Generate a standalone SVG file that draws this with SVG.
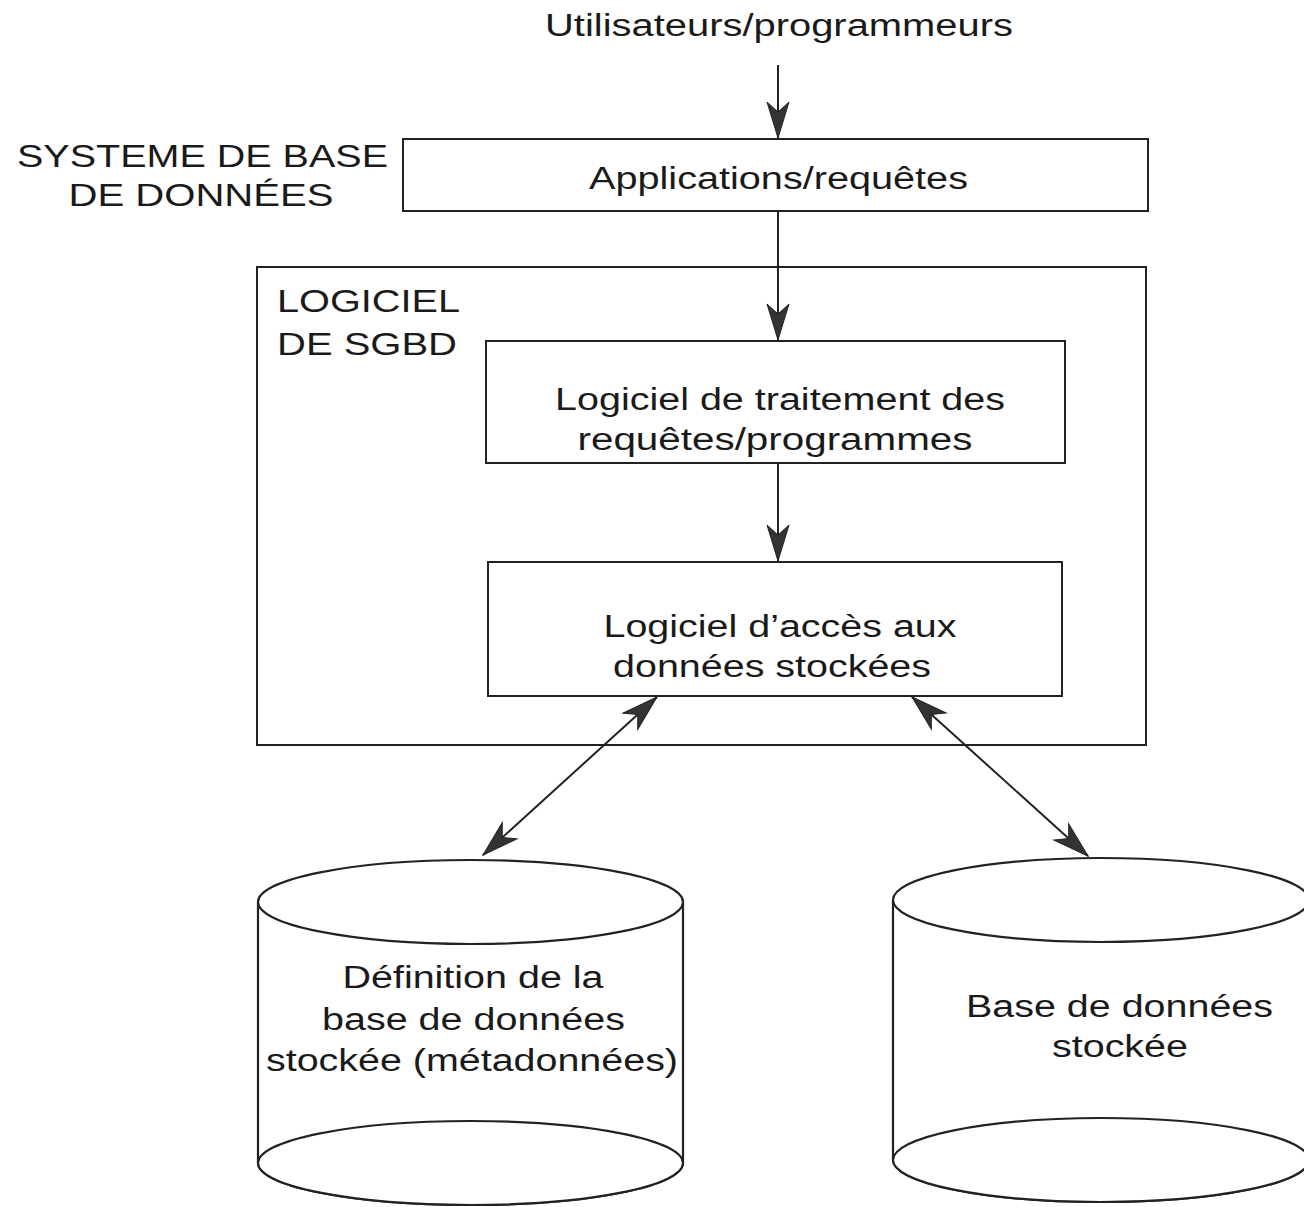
<svg xmlns="http://www.w3.org/2000/svg" width="1304" height="1207" viewBox="0 0 1304 1207">
<style>
  .t { font-family: "Liberation Sans", Arial, sans-serif; font-size: 31px; fill: #1a1a1a; }
  .m { text-anchor: middle; }
  .box { fill: #fff; stroke: #222; stroke-width: 2; }
  .edge { fill: none; stroke: #222; stroke-width: 2; }
  .cyl { fill: #fff; stroke: #222; stroke-width: 2.2; }
</style>
<defs>
  <marker id="ah" viewBox="-40 -14 42 28" refX="0" refY="0" markerWidth="42" markerHeight="28" markerUnits="userSpaceOnUse" orient="auto-start-reverse">
    <path d="M0,0 L-36,-11 L-26,0 L-36,11 Z" fill="#333" stroke="#222" stroke-width="1"/>
  </marker>
</defs>
<rect width="1304" height="1207" fill="#fff"/>

<text class="t m" x="779" y="36" textLength="468" lengthAdjust="spacingAndGlyphs">Utilisateurs/programmeurs</text>

<g id="sys-label">
  <text class="t m" x="202.5" y="167" textLength="371" lengthAdjust="spacingAndGlyphs">SYSTEME DE BASE</text>
  <text class="t m" x="201" y="206" textLength="265" lengthAdjust="spacingAndGlyphs">DE DONNÉES</text>
</g>

<g id="applications">
  <rect class="box" x="403" y="139" width="745" height="72"/>
  <text class="t m" x="778.5" y="189" textLength="379" lengthAdjust="spacingAndGlyphs">Applications/requêtes</text>
</g>

<g id="sgbd">
  <rect class="box" x="257" y="267" width="889" height="478"/>
  <text class="t" x="277" y="312" textLength="183" lengthAdjust="spacingAndGlyphs">LOGICIEL</text>
  <text class="t" x="277" y="355" textLength="180" lengthAdjust="spacingAndGlyphs">DE SGBD</text>
</g>

<g id="traitement">
  <rect class="box" x="486" y="341" width="579" height="122"/>
  <text class="t m" x="780" y="410" textLength="450" lengthAdjust="spacingAndGlyphs">Logiciel de traitement des</text>
  <text class="t m" x="775" y="450" textLength="395" lengthAdjust="spacingAndGlyphs">requêtes/programmes</text>
</g>

<g id="acces">
  <rect class="box" x="488" y="562" width="574" height="134"/>
  <text class="t m" x="780" y="637" textLength="353" lengthAdjust="spacingAndGlyphs">Logiciel d’accès aux</text>
  <text class="t m" x="772" y="677" textLength="318" lengthAdjust="spacingAndGlyphs">données stockées</text>
</g>

<g id="metadonnees">
  <path class="cyl" d="M258,902 L258,1163 A212.5,42 0 0 0 683,1163 L683,902"/>
  <ellipse class="cyl" cx="470.5" cy="1163" rx="212.5" ry="42"/>
  <ellipse class="cyl" cx="470.5" cy="902" rx="212.5" ry="42"/>
  <text class="t m" x="473" y="988" textLength="261" lengthAdjust="spacingAndGlyphs">Définition de la</text>
  <text class="t m" x="473.5" y="1030" textLength="303" lengthAdjust="spacingAndGlyphs">base de données</text>
  <text class="t m" x="472" y="1071" textLength="412" lengthAdjust="spacingAndGlyphs">stockée (métadonnées)</text>
</g>

<g id="base">
  <path class="cyl" d="M893,900 L893,1160 A208,42 0 0 0 1309,1160 L1309,900"/>
  <ellipse class="cyl" cx="1101" cy="1160" rx="208" ry="42"/>
  <ellipse class="cyl" cx="1101" cy="900" rx="208" ry="42"/>
  <text class="t m" x="1119.5" y="1017" textLength="307" lengthAdjust="spacingAndGlyphs">Base de données</text>
  <text class="t m" x="1120" y="1057" textLength="136" lengthAdjust="spacingAndGlyphs">stockée</text>
</g>

<g id="connectors">
  <line class="edge" x1="778" y1="65" x2="778" y2="138" marker-end="url(#ah)"/>
  <line class="edge" x1="778" y1="211" x2="778" y2="340" marker-end="url(#ah)"/>
  <line class="edge" x1="778" y1="463" x2="778" y2="561" marker-end="url(#ah)"/>
  <line class="edge" x1="657" y1="697" x2="483" y2="855" marker-start="url(#ah)" marker-end="url(#ah)"/>
  <line class="edge" x1="912" y1="697" x2="1088" y2="856" marker-start="url(#ah)" marker-end="url(#ah)"/>
</g>
</svg>
